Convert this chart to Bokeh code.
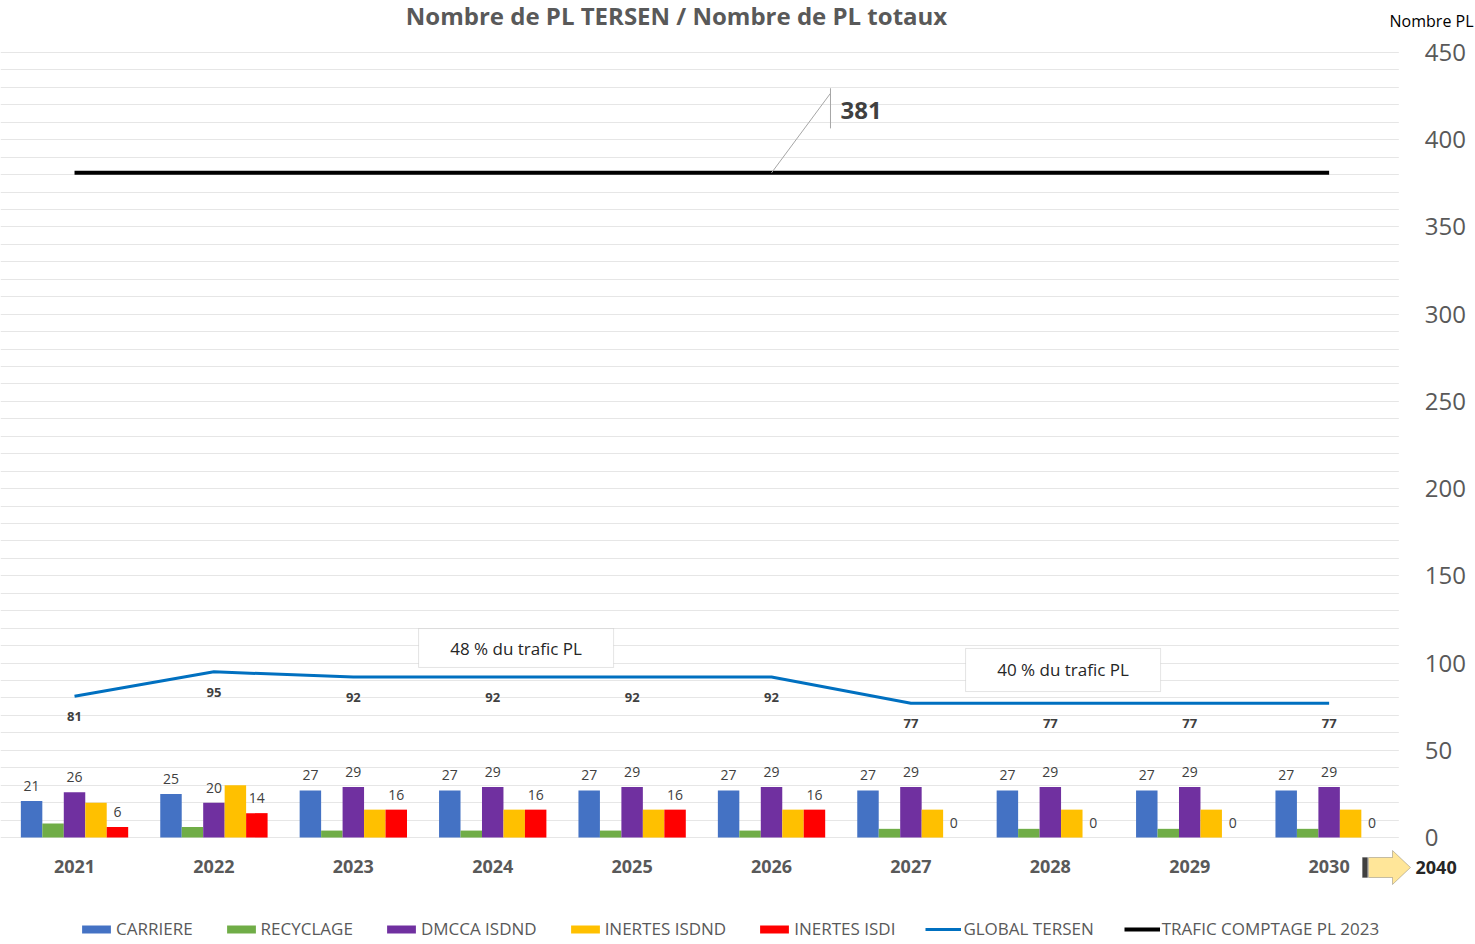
from bokeh.plotting import figure
from bokeh.models import (ColumnDataSource, Range1d, SingleIntervalTicker, FixedTicker,
                          Label, BoxAnnotation, PolyAnnotation, Legend, LegendItem)
from bokeh.transform import dodge
from bokeh.core.properties import value
from bokeh.embed import file_html
from bokeh.resources import INLINE

years = ["2021", "2022", "2023", "2024", "2025", "2026", "2027", "2028", "2029", "2030"]
carriere = [21, 25, 27, 27, 27, 27, 27, 27, 27, 27]
recyclage = [8, 6, 4, 4, 4, 4, 5, 5, 5, 5]
dmcca_isdnd = [26, 20, 29, 29, 29, 29, 29, 29, 29, 29]
inertes_isdnd = [20, 30, 16, 16, 16, 16, 16, 16, 16, 16]
inertes_isdi = [6, 14, 16, 16, 16, 16, 0, 0, 0, 0]
global_tersen = [81, 95, 92, 92, 92, 92, 77, 77, 77, 77]
trafic_2023 = [381] * 10
y_ticks = [0, 50, 100, 150, 200, 250, 300, 350, 400, 450]

FONT = "Open Sans"
GRAY = "#595959"
DARK = "#404040"

xpos = list(range(len(years)))
src = ColumnDataSource(dict(
    x=xpos, carriere=carriere, recyclage=recyclage, dmcca=dmcca_isdnd,
    isdnd=inertes_isdnd, isdi=inertes_isdi, glob=global_tersen, trafic=trafic_2023,
    carriere_lbl=[str(v) for v in carriere], dmcca_lbl=[str(v) for v in dmcca_isdnd],
    isdi_lbl=[str(v) for v in inertes_isdi], glob_lbl=[str(v) for v in global_tersen],
))

W, H = 1475, 944
p = figure(x_range=Range1d(-0.531, 10.05), y_range=Range1d(-61.3, 479.8), width=W, height=H,
           output_backend="svg", toolbar_location=None, y_axis_location="right",
           min_border=0, min_border_left=0, min_border_right=0, min_border_top=0,
           min_border_bottom=0, outline_line_color=None)

# y axis (right, fixed at the end of the category area)
p.yaxis.fixed_location = len(years) - 0.5
p.yaxis.ticker = FixedTicker(ticks=y_ticks)
p.yaxis.bounds = (y_ticks[0], y_ticks[-1])
p.yaxis.axis_line_color = None
p.yaxis.major_tick_line_color = None
p.yaxis.minor_tick_line_color = None
p.yaxis.major_label_text_font_size = "24px"
p.yaxis.major_label_text_color = GRAY
p.yaxis.major_label_text_font = FONT
p.yaxis.major_label_standoff = 20

# x axis (fixed at y = 0)
p.xaxis.fixed_location = 0
p.xaxis.ticker = FixedTicker(ticks=xpos)
p.xaxis.major_label_overrides = {i: y for i, y in zip(xpos, years)}
p.xaxis.bounds = (-0.5, len(years) - 0.5)
p.xaxis.axis_line_color = None
p.xaxis.major_tick_line_color = None
p.xaxis.minor_tick_line_color = None
p.xaxis.major_label_text_font_size = "18px"
p.xaxis.major_label_text_font_style = "bold"
p.xaxis.major_label_text_color = GRAY
p.xaxis.major_label_text_font = FONT
p.xaxis.major_label_standoff = 16

p.xgrid.grid_line_color = None
p.ygrid.ticker = SingleIntervalTicker(interval=10)
p.ygrid.bounds = (y_ticks[0], y_ticks[-1])
p.ygrid.grid_line_color = "#E6E6E6"
p.ygrid.grid_line_width = 1

# white cover so gridlines stop at the end of the plot area
p.add_layout(BoxAnnotation(left=len(years) - 0.5, fill_color="white", fill_alpha=1,
                           line_color=None, level="underlay"))

# bars
bw = 0.154
series = [("carriere", "#4472C4", "CARRIERE"), ("recyclage", "#70AD47", "RECYCLAGE"),
          ("dmcca", "#7030A0", "DMCCA ISDND"), ("isdnd", "#FFC000", "INERTES ISDND"),
          ("isdi", "#FF0000", "INERTES ISDI")]
offsets = [-2 * bw, -bw, 0, bw, 2 * bw]
renderers = {}
for (col, color, name), off in zip(series, offsets):
    renderers[name] = p.vbar(x=dodge("x", off), top=col, width=bw,
                             source=src, fill_color=color, line_color=None)

for col, off in [("carriere", offsets[0]), ("dmcca", offsets[2]), ("isdi", offsets[4])]:
    p.text(x=dodge("x", off), y=col, text=col + "_lbl", source=src,
           text_align="center", text_baseline="bottom", y_offset=-10,
           text_font=value(FONT), text_font_size="14px", text_color=DARK)

# lines
r_glob = p.line(x="x", y="glob", source=src, line_color="#0070C0", line_width=3)
r_traf = p.line(x="x", y="trafic", source=src, line_color="#000000", line_width=4)
renderers["GLOBAL TERSEN"] = r_glob
renderers["TRAFIC COMPTAGE PL 2023"] = r_traf

p.text(x="x", y="glob", text="glob_lbl", source=src, text_align="center",
       text_baseline="top", y_offset=16, text_font=value(FONT), text_font_size="13px",
       text_font_style="bold", text_color=DARK)

# callout 381
p.line(x=[5, 5.423], y=[381, 426.6], line_color="#A6A6A6", line_width=1)
p.line(x=[5.423, 5.423], y=[429.5, 406.5], line_color="#A6A6A6", line_width=1)
p.add_layout(Label(x=5.495, y=416.9, text=str(trafic_2023[5]), text_font=FONT,
                   text_font_size="24px", text_font_style="bold", text_color=DARK,
                   text_baseline="middle"))

# text boxes
for (l, r, b, t), txt in [((2.468, 3.867, 97.5, 119.8), "48 % du trafic PL"),
                          ((6.392, 7.791, 83.7, 108.4), "40 % du trafic PL")]:
    p.add_layout(BoxAnnotation(left=l, right=r, bottom=b, top=t, fill_color="white",
                               fill_alpha=1, line_color="#A6A6A6", line_width=1))
    p.add_layout(Label(x=(l + r) / 2, y=(b + t) / 2, text=txt, text_font=FONT,
                       text_font_size="17px", text_color="#262626",
                       text_align="center", text_baseline="middle"))

# title and axis title (screen units from the bottom-left corner)
p.add_layout(Label(x=676, y=H - 15, x_units="screen", y_units="screen",
                   text="Nombre de PL TERSEN / Nombre de PL totaux", text_font=FONT,
                   text_font_size="24px", text_font_style="bold", text_color=GRAY,
                   text_align="center", text_baseline="alphabetic"))
p.add_layout(Label(x=1473, y=H - 20, x_units="screen", y_units="screen", text="Nombre PL",
                   text_font=FONT, text_font_size="16px", text_color="#000000",
                   text_align="right", text_baseline="middle"))

# arrow 2030 -> 2040
ax = [1368, 1392, 1392, 1410, 1392, 1392, 1368]
ay = [H - 857, H - 857, H - 850, H - 867, H - 884, H - 877, H - 877]
p.add_layout(PolyAnnotation(xs=ax, ys=ay, xs_units="screen", ys_units="screen",
                            fill_color="#FFE699", fill_alpha=1, line_color=DARK, line_width=1))
p.add_layout(PolyAnnotation(xs=[1362, 1367, 1367, 1362], ys=[H - 857, H - 857, H - 877, H - 877],
                            xs_units="screen", ys_units="screen",
                            fill_color="#404040", fill_alpha=1, line_color=DARK, line_width=1))
p.add_layout(Label(x=1415, y=H - 867, x_units="screen", y_units="screen", text="2040",
                   text_font=FONT, text_font_size="18px", text_font_style="bold",
                   text_color="#262626", text_baseline="middle"))

# legend
names = ["CARRIERE", "RECYCLAGE", "DMCCA ISDND", "INERTES ISDND", "INERTES ISDI",
         "GLOBAL TERSEN", "TRAFIC COMPTAGE PL 2023"]
legend = Legend(items=[LegendItem(label=n, renderers=[renderers[n]]) for n in names],
                orientation="horizontal", location=(78, 4), glyph_width=36, glyph_height=10,
                label_standoff=2, spacing=30, padding=0, margin=0, border_line_color=None,
                background_fill_alpha=0, label_text_font=FONT, label_text_font_size="17px",
                label_text_color=GRAY, label_height=16)
p.add_layout(legend)

open("out.html", "w").write(file_html(p, INLINE))
